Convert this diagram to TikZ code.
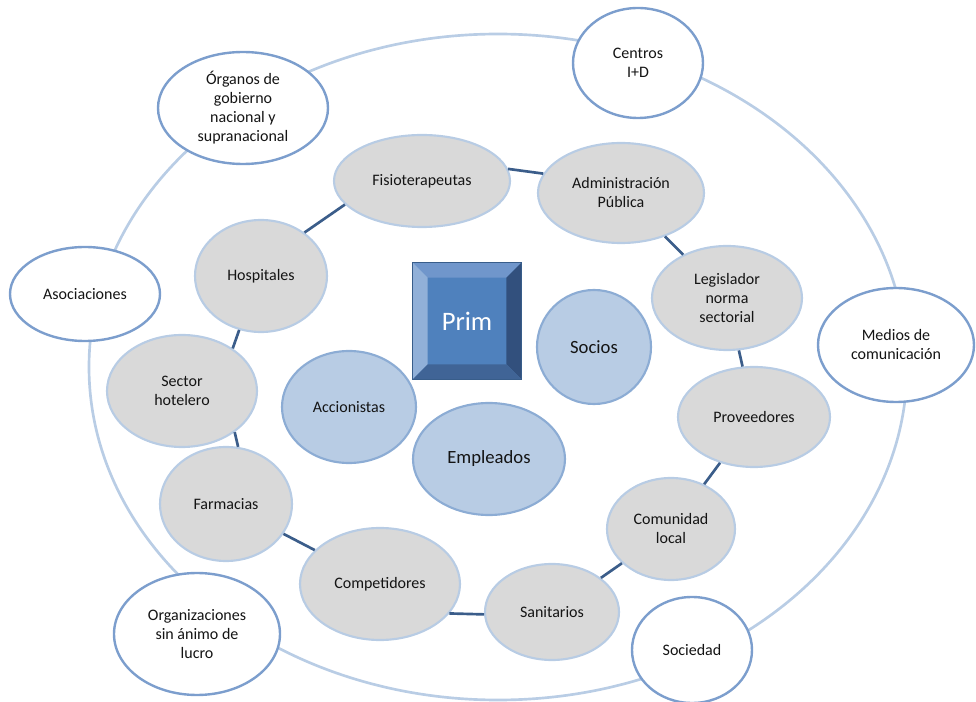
\documentclass[tikz,border=0pt]{standalone}
\usepackage{fontspec}
\setmainfont{Carlito}
\usetikzlibrary{shapes.geometric,calc}
\definecolor{ringc}{RGB}{185,205,229}
\definecolor{wbord}{RGB}{124,158,205}
\definecolor{gfill}{RGB}{217,217,217}
\definecolor{gbord}{RGB}{184,204,228}
\definecolor{bfill}{RGB}{184,204,228}
\definecolor{bbord}{RGB}{140,172,212}
\definecolor{conn}{RGB}{59,93,138}
\definecolor{face}{RGB}{79,129,189}
\definecolor{bevtop}{RGB}{112,150,203}
\definecolor{bevleft}{RGB}{145,176,216}
\definecolor{bevright}{RGB}{50,80,125}
\definecolor{bevbot}{RGB}{64,100,150}
\definecolor{boxline}{RGB}{56,93,138}
\definecolor{txt}{RGB}{20,20,20}
\tikzset{
  sz/.style 2 args={minimum width=#1*1.5pt, minimum height=#2*1.5pt},
  base/.style={ellipse, inner sep=0pt, align=center, text=txt,
    font=\fontsize{12}{14.25}\selectfont},
  wnode/.style={base, draw=wbord, fill=white, line width=1.8pt},
  gnode/.style={base, draw=gbord, fill=gfill, line width=1.6pt},
  bnode/.style={base, draw=bbord, fill=bfill, line width=1.6pt},
  link/.style={draw=conn, line width=2pt},
  ringline/.style={ellipse, draw=ringc, line width=2pt, inner sep=0pt},
}
\begin{document}
\begin{tikzpicture}[x=0.75pt,y=-0.75pt]
\useasboundingbox (0,0) rectangle (976,702);
% outer ring
\node[ringline, sz={409}{333}] (ring) at (498,367) {};
% white outer nodes
\node[wnode, sz={85}{56}] (org) at (243,108) {Órganos de\\gobierno\\nacional y\\supranacional};
\node[wnode, sz={65}{55}] (cen) at (638,63) {Centros\\I+D};
\node[wnode, sz={75}{47}] (aso) at (85,294) {Asociaciones};
\node[wnode, sz={78}{57}] (med) at (896,345) {Medios de\\comunicación};
\node[wnode, sz={60}{53}] (soc) at (692,650) {Sociedad};
\node[wnode, sz={83}{61}] (osal) at (197,634) {Organizaciones\\sin ánimo de\\lucro};
% gray ring nodes
\node[gnode, sz={88}{46}] (fis) at (422,181) {Fisioterapeutas};
\node[gnode, sz={83}{50}] (adm) at (621,193) {Administración\\Pública};
\node[gnode, sz={75}{52}] (leg) at (727,298) {Legislador\\norma\\sectorial};
\node[gnode, sz={76}{50}] (pro) at (754,417) {Proveedores};
\node[gnode, sz={64}{51}] (com) at (671,529) {Comunidad\\local};
\node[gnode, sz={67}{48}] (san) at (552,612) {Sanitarios};
\node[gnode, sz={80}{56}] (comp) at (380,584) {Competidores};
\node[gnode, sz={66}{57}] (far) at (226,504) {Farmacias};
\node[gnode, sz={75}{56}] (sec) at (182,391) {Sector\\hotelero};
\node[gnode, sz={66}{56}] (hos) at (261,276) {Hospitales};
% connectors of inner ring
\draw[link] (fis.8) -- (adm.166);
\draw[link] (adm) -- (leg);
\draw[link] (leg) -- (pro);
\draw[link] (pro) -- (com);
\draw[link] (com) -- (san);
\draw[link] (san.182) -- (comp.337);
\draw[link] (comp) -- (far);
\draw[link] (far.78) -- (sec.322);
\draw[link] (sec.40) -- (hos.248);
\draw[link] (hos.45) -- (fis.197);
% blue inner nodes
\node[bnode, sz={67}{56}] (acc) at (349,407) {Accionistas};
\node[bnode, sz={76}{56}, font=\fontsize{14}{17}\selectfont] (emp) at (489,459) {Empleados};
\node[bnode, sz={57}{57}, font=\fontsize{14}{17}\selectfont] (socios) at (594,347) {Socios};
% Prim bevelled box
\node[rectangle, fill=face, minimum width=81pt, minimum height=87pt, inner sep=0pt] (prim) at (467,321) {};
\fill[bevtop] (prim.north west) -- (prim.north east) -- ($(prim.north east)+(-15,15)$) -- ($(prim.north west)+(15,15)$) -- cycle;
\fill[bevleft] (prim.north west) -- ($(prim.north west)+(15,15)$) -- ($(prim.south west)+(15,-15)$) -- (prim.south west) -- cycle;
\fill[bevright] (prim.north east) -- (prim.south east) -- ($(prim.south east)+(-15,-15)$) -- ($(prim.north east)+(-15,15)$) -- cycle;
\fill[bevbot] (prim.south west) -- ($(prim.south west)+(15,-15)$) -- ($(prim.south east)+(-15,-15)$) -- (prim.south east) -- cycle;
\draw[boxline, line width=0.8pt] (prim.north west) rectangle (prim.south east);
\node[text=white, font=\fontsize{20}{24}\selectfont] (primlbl) at (prim.center) {Prim};
\end{tikzpicture}
\end{document}
